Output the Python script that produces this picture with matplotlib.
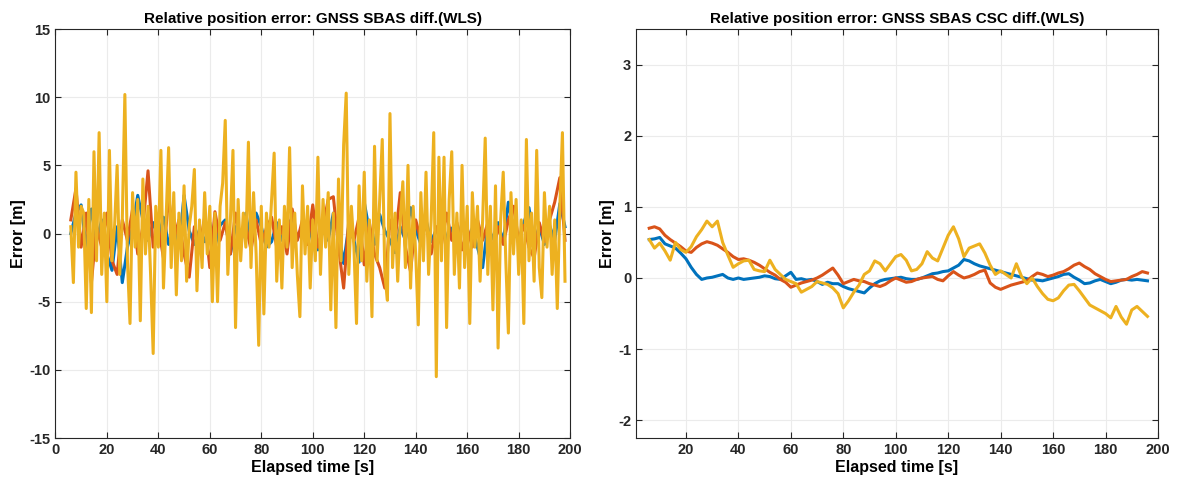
import numpy as np
import matplotlib
matplotlib.use("Agg")
import matplotlib.pyplot as plt

# ---- data: left panel, GNSS SBAS diff. (WLS) ----
t0_left = 6
yellow_left = [
    0.5, -3.6, 4.5, -1.0, 2.0, 1.5, -5.5, 2.5, -5.8, 6.0,
    -2.0, 7.4, -3.0, 1.5, -5.0, 6.1, -2.0, 0.5, 5.0, -3.0,
    1.0, 10.2, -2.0, -6.6, 3.0, -1.0, 2.5, -6.4, 4.0, -1.5,
    2.0, -3.0, -8.8, 2.0, -1.0, 6.1, -4.0, 1.0, 6.3, -2.5,
    3.0, -4.5, 1.5, -2.0, 3.5, -3.5, 0.5, 2.0, 4.7, -4.2,
    1.0, -2.5, 3.0, -1.5, 2.0, -5.0, 1.5, -5.0, 2.0, 3.7,
    8.3, -3.0, 1.0, 6.1, -6.9, 2.5, -2.0, 1.5, -1.0, 6.7,
    -2.5, 3.0, -1.5, -8.2, 2.0, -5.9, 1.5, -1.0, 2.5, 5.9,
    -3.5, 1.0, -4.0, 2.0, -1.0, 6.3, -2.5, 1.5, -3.0, -6.1,
    3.5, -1.5, 2.0, -4.0, 1.0, -2.0, 5.6, -3.0, 2.5, -1.0,
    3.0, -5.6, 1.5, -6.9, 4.0, -2.0, 6.5, 10.3, -3.0, 2.0,
    -1.0, -6.6, 3.5, -2.0, 4.5, -3.5, 1.0, -6.1, 6.4, -2.0,
    2.5, 6.9, -3.0, -4.9, 8.8, -2.5, 1.5, -3.5, 1.0, 3.8,
    -2.5, 5.0, -4.0, 2.0, -1.5, -6.7, 3.0, -2.0, 4.5, -3.0,
    1.0, 7.4, -10.5, 5.6, -2.0, 5.6, -6.9, 2.5, 6.0, -3.0,
    1.5, -4.0, 5.0, -2.5, 2.0, -6.6, 3.0, -1.0, 2.0, -3.5,
    1.0, 7.0, -3.0, 2.0, -5.6, 3.5, -8.4, 1.0, 4.5, -2.0,
    -7.3, 3.0, -1.5, 2.5, -3.0, 1.0, -6.6, 6.9, -2.0, 1.5,
    -3.5, 6.1, -2.5, -4.7, 3.0, -1.0, 2.0, -3.0, 1.0, -5.5,
    2.0, 7.4, -3.5,
]
blue_left = [
    0.0, 1.5, 2.1, -1.0, 1.8, -0.5, 1.0, -1.5, -2.7, 0.5,
    -3.6, -1.0, 0.5, 2.8, 1.0, -0.5, 0.8, -0.3, 1.2, -0.8,
    0.5, -1.0, 2.8, 0.2, -0.8, 0.3, -0.6, 0.8, -1.0, 0.6,
    1.0, -1.5, 0.5, -0.8, 1.5, -0.8, 1.5, 0.5, -1.0, -0.6,
    0.8, -0.5, 0.6, 1.1, -0.4, 0.6, -0.8, 0.8, -1.2, 0.3,
    -0.5, 1.5, 0.2, -2.2, 0.6, -0.5, -2.1, 2.3, 0.2, -0.8,
    1.4, 0.2, -0.5, -1.4, 0.5, -0.5, 1.9, 0.3, -0.8, 1.0,
    -0.6, 0.3, 1.0, -0.4, 0.4, -0.8, 0.8, -0.6, 0.4, -1.0,
    -2.5, 0.6, -0.4, 0.8, -0.6, 2.3, 0.2, -0.5, 0.8, 1.9,
    -0.6, 0.5, -0.8, 0.6, -0.5, 2.2, 0.5,
]
red_left = [
    1.0, 3.3, -1.0, 1.5, -3.6, 0.5, -1.0, 1.5, -2.0, -3.0,
    1.0, -0.5, 1.8, -1.5, 0.5, 4.6, -1.0, 0.5, -1.8, 2.7,
    -0.5, 1.0, -1.5, -3.2, 0.5, -1.0, 1.2, -2.5, 1.6, -0.5,
    0.8, -1.5, 1.5, -0.5, 0.6, -1.2, 1.0, -0.8, 0.4, 1.2,
    -1.0, 0.5, -1.5, 1.8, -0.5, 1.0, -0.8, 2.1, -1.0, 0.5,
    2.5, 2.7, -1.0, -4.0, 1.0, -0.5, 1.2, -2.3, 0.8, -1.5,
    -2.5, -4.0, 1.0, -0.5, 3.0, -1.0, -2.8, 1.0, -0.5, 0.8,
    -1.5, 0.5, -0.8, 1.5, -0.5, 0.8, -1.2, 0.4, -1.0, 1.0,
    -0.5, 0.8, -1.5, 0.5, -0.8, 1.0, 2.0, -0.5, 0.6, -1.0,
    -1.8, 0.8, -0.6, 1.0, 2.3, 4.1, -0.5,
]

# ---- data: right panel, GNSS SBAS CSC diff. (WLS), sampled every 2 s ----
t0_right = 6
blue_right = [
    0.54, 0.55, 0.57, 0.48, 0.45, 0.42, 0.35, 0.27, 0.15, 0.05,
    -0.02, 0.0, 0.01, 0.03, 0.05, 0.0, -0.02, 0.0, -0.02, -0.01,
    0.0, 0.01, 0.03, 0.02, -0.01, -0.02, 0.03, 0.08, -0.02, -0.01,
    -0.03, -0.02, -0.05, -0.09, -0.06, -0.08, -0.08, -0.12, -0.15, -0.17,
    -0.19, -0.21, -0.14, -0.08, -0.04, -0.02, -0.01, 0.0, 0.01, -0.01,
    -0.02, -0.02, 0.0, 0.03, 0.06, 0.07, 0.09, 0.1, 0.14, 0.18,
    0.26, 0.24, 0.2, 0.17, 0.15, 0.13, 0.11, 0.09, 0.07, 0.05,
    0.03, 0.01, -0.01, -0.03, -0.03, -0.04, -0.02, 0.0, 0.02, 0.05,
    0.06, 0.01, -0.03, -0.08, -0.07, -0.04, -0.02, -0.05, -0.08, -0.06,
    -0.03, -0.02, -0.03, -0.02, -0.03, -0.04,
]
red_right = [
    0.70, 0.72, 0.69, 0.6, 0.54, 0.49, 0.44, 0.38, 0.36, 0.43,
    0.48, 0.51, 0.49, 0.46, 0.41, 0.36, 0.3, 0.26, 0.27, 0.25,
    0.22, 0.18, 0.13, 0.08, 0.04, -0.02, -0.06, -0.13, -0.1, -0.07,
    -0.05, -0.03, 0.0, 0.04, 0.09, 0.14, 0.04, -0.08, -0.05, -0.02,
    -0.04, -0.05, -0.08, -0.1, -0.12, -0.09, -0.04, 0.0, -0.03, -0.06,
    -0.05, -0.02, 0.0, 0.01, 0.02, -0.02, -0.04, 0.03, 0.09, 0.04,
    0.0, 0.02, 0.05, 0.09, 0.11, -0.07, -0.13, -0.16, -0.13, -0.1,
    -0.08, -0.06, -0.04, 0.02, 0.07, 0.05, 0.02, 0.04, 0.07, 0.09,
    0.13, 0.18, 0.21, 0.16, 0.12, 0.06, 0.02, -0.02, -0.05, -0.04,
    -0.03, -0.02, 0.02, 0.05, 0.09, 0.07,
]
yellow_right = [
    0.54, 0.42, 0.49, 0.38, 0.25, 0.5, 0.4, 0.36, 0.44, 0.58,
    0.68, 0.8, 0.72, 0.8, 0.5, 0.32, 0.15, 0.2, 0.24, 0.25,
    0.12, 0.1, 0.09, 0.25, 0.12, 0.05, -0.02, -0.05, -0.08, -0.2,
    -0.16, -0.12, -0.05, -0.07, -0.09, -0.14, -0.22, -0.42, -0.32, -0.2,
    -0.1, 0.05, 0.1, 0.24, 0.2, 0.1, 0.2, 0.3, 0.33, 0.25,
    0.1, 0.12, 0.2, 0.37, 0.28, 0.24, 0.42, 0.6, 0.72, 0.55,
    0.3, 0.42, 0.45, 0.48, 0.35, 0.18, 0.05, 0.1, 0.05, 0.0,
    0.2, 0.02, -0.08, 0.0, -0.12, -0.22, -0.3, -0.32, -0.28, -0.18,
    -0.1, -0.09, -0.18, -0.28, -0.38, -0.42, -0.46, -0.5, -0.56, -0.4,
    -0.55, -0.65, -0.45, -0.4, -0.47, -0.54,
]

colors = ["#0072BD", "#D95319", "#EDB120"]

plt.rcParams['font.family'] = ['Liberation Sans', 'DejaVu Sans']
plt.rcParams['font.weight'] = 'bold'
plt.rcParams['axes.labelweight'] = 'bold'
plt.rcParams['axes.titleweight'] = 'bold'
plt.rcParams['axes.unicode_minus'] = False


def style_axes(ax):
    ax.grid(True, color="#ebebeb", linewidth=0.8)
    ax.set_axisbelow(True)
    ax.tick_params(direction="in", top=True, right=True, labelsize=10.5,
                   colors="#262626", length=4, width=0.8)
    for s in ax.spines.values():
        s.set_color("#262626")
        s.set_linewidth(0.8)
    ax.set_xlabel("Elapsed time [s]", fontsize=11.5, labelpad=2)
    ax.set_ylabel("Error [m]", fontsize=11.5, labelpad=2)


fig = plt.figure(figsize=(11.78, 4.84), dpi=100)

# left panel
ax1 = fig.add_axes([0.047, 0.095, 0.437, 0.845])
t_y = np.arange(len(yellow_left)) + t0_left
t_b = np.arange(len(blue_left)) * 2 + t0_left
t_r = np.arange(len(red_left)) * 2 + t0_left
ax1.plot(t_b, blue_left, color=colors[0], lw=2.2)
ax1.plot(t_r, red_left, color=colors[1], lw=2.2)
ax1.plot(t_y, yellow_left, color=colors[2], lw=2.2)
ax1.set_xlim(0, 200)
ax1.set_ylim(-15, 15)
ax1.set_xticks(np.arange(0, 201, 20))
ax1.set_yticks(np.arange(-15, 16, 5))
ax1.set_title("Relative position error: GNSS SBAS diff.(WLS)", fontsize=11, pad=4)
style_axes(ax1)

# right panel
ax2 = fig.add_axes([0.54, 0.095, 0.443, 0.845])
t2 = np.arange(len(blue_right)) * 2 + t0_right
ax2.plot(t2, blue_right, color=colors[0], lw=2.2)
ax2.plot(t2, red_right, color=colors[1], lw=2.2)
ax2.plot(t2, yellow_right, color=colors[2], lw=2.2)
ax2.set_xlim(1, 200)
ax2.set_ylim(-2.25, 3.5)
ax2.set_xticks(np.arange(20, 201, 20))
ax2.set_yticks(np.arange(-2, 4, 1))
ax2.set_title("Relative position error: GNSS SBAS CSC diff.(WLS)", fontsize=11, pad=4)
style_axes(ax2)

fig.savefig("out.png", dpi=100)
